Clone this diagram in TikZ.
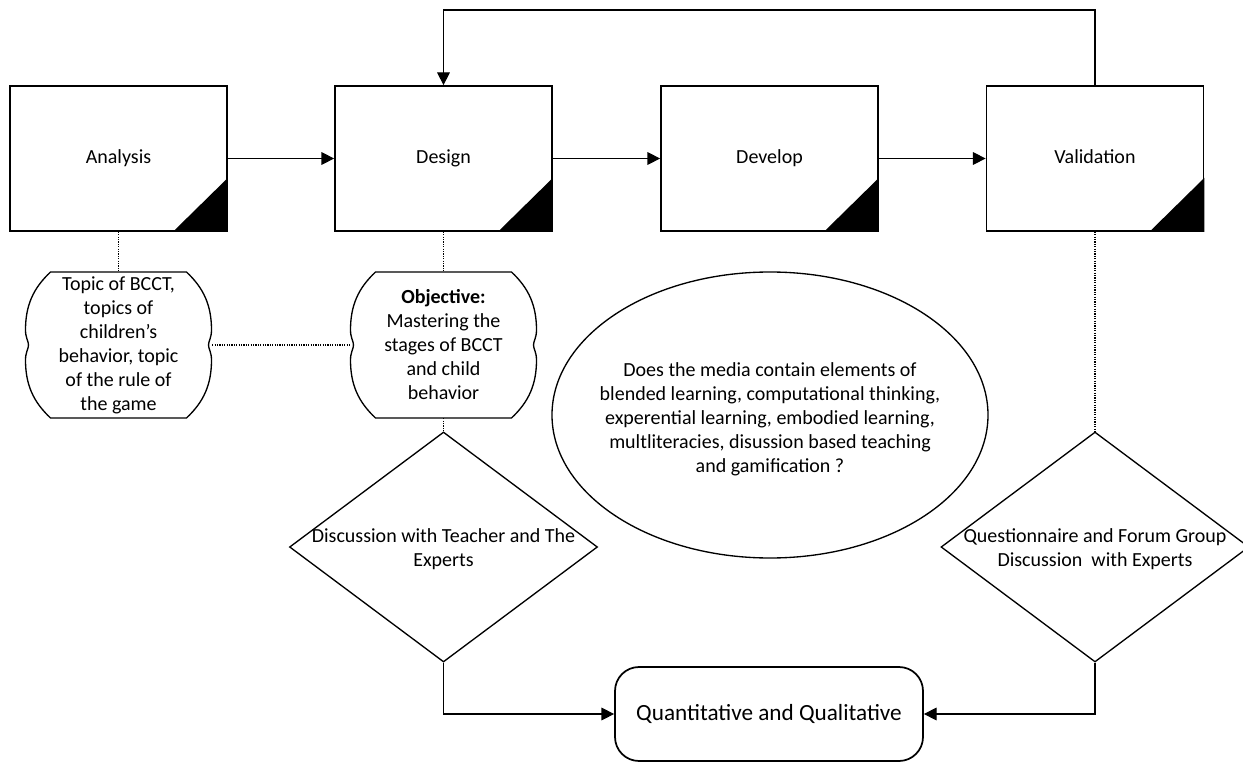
\documentclass[tikz,border=0pt]{standalone}
\usepackage{fontspec}
\setmainfont{Carlito}
\usetikzlibrary{arrows.meta,shapes.geometric}

\begin{document}
\begin{tikzpicture}[x=0.75pt, y=-0.75pt, >={Triangle[length=9.5pt,width=9.5pt]},
  font=\fontsize{15pt}{18pt}\selectfont,
  stage/.style={draw, line width=1.3pt, minimum width=162.75pt, minimum height=108.75pt,
    text height=10.5pt, text depth=3.5pt},
  cloudtxt/.style={minimum width=140.25pt, minimum height=109.5pt, align=center, inner sep=0pt},
  decide/.style={draw, diamond, line width=1pt, minimum width=231pt, minimum height=172.5pt, inner sep=0pt},
  txt/.style={align=center, inner sep=0pt},
  link/.style={line width=0.8pt},
  dots/.style={line width=0.9pt, dash pattern=on 0.9pt off 0.9pt}]
  \useasboundingbox (0,0) rectangle (1243,763);

  % stages
  \node[stage] (analysis) at (118.5,158.5) {Analysis};
  \node[stage] (design) at (443.5,158.5) {Design};
  \node[stage] (develop) at (769.5,158.5) {Develop};
  \node[stage] (valid) at (1095,158.5) {Validation};
  \foreach \b in {analysis,design,develop,valid}
    \fill (\b.south east) -- ++(-55,0) -- ++(55,-54) -- cycle;

  \draw[link,->] (analysis) -- (design);
  \draw[link,->] (design) -- (develop);
  \draw[link,->] (develop) -- (valid);
  \coordinate (looptop) at (770,10);
  \draw[link,->] (valid.north) -- (valid.north |- looptop) -| (design.north);

  % notes under analysis and design
  \node[cloudtxt] (topic) at (118.5,345) {Topic of BCCT,\\topics of\\children’s\\behavior, topic\\of the rule of\\the game};
  \node[cloudtxt] (objective) at (443.5,345) {\textbf{Objective:}\\Mastering the\\stages of BCCT\\and child\\behavior};
  \foreach \cx in {118.5,443.5}
    \draw[line width=1pt] ({\cx-68},272) -- ({\cx+68},272)
      .. controls ({\cx+85},288) and ({\cx+93},305) .. ({\cx+93},330)
      .. controls ({\cx+93},338) and ({\cx+90},341) .. ({\cx+90},345)
      .. controls ({\cx+90},349) and ({\cx+93},352) .. ({\cx+93},360)
      .. controls ({\cx+93},385) and ({\cx+85},402) .. ({\cx+68},418)
      -- ({\cx-68},418)
      .. controls ({\cx-85},402) and ({\cx-93},385) .. ({\cx-93},360)
      .. controls ({\cx-93},352) and ({\cx-90},349) .. ({\cx-90},345)
      .. controls ({\cx-90},341) and ({\cx-93},338) .. ({\cx-93},330)
      .. controls ({\cx-93},305) and ({\cx-85},288) .. cycle;

  % checks
  \node[decide] (discuss) at (443.5,547) {};
  \node[txt] (discusstxt) at (443.5,549) {Discussion with Teacher and The\\Experts};
  \node[decide] (quest) at (1095,547) {};
  \node[txt] (questtxt) at (1095,549) {Questionnaire and Forum Group\\Discussion\ \ with Experts};
  \node[draw, ellipse, line width=1pt, minimum width=327pt, minimum height=214.5pt] (media) at (770,415) {};
  \node[txt] (mediatxt) at (770,419) {Does the media contain elements of\\blended learning, computational thinking,\\experential learning, embodied learning,\\multliteracies, disussion based teaching\\and gamification ?};

  \draw[dots] (analysis) -- (topic);
  \draw[dots] (topic) -- (objective);
  \draw[dots] (design) -- (objective);
  \draw[dots] (objective) -- (discuss);
  \draw[dots] (valid) -- (quest);

  % result
  \node[draw, rounded corners=18pt, line width=1.3pt, minimum width=231pt, minimum height=70.5pt,
    font=\fontsize{17.4pt}{21pt}\selectfont] (result) at (769,714) {Quantitative and Qualitative};
  \draw[link,->] (discuss.south) |- (result.west);
  \draw[link,->] (quest.south) |- (result.east);
\end{tikzpicture}
\end{document}
